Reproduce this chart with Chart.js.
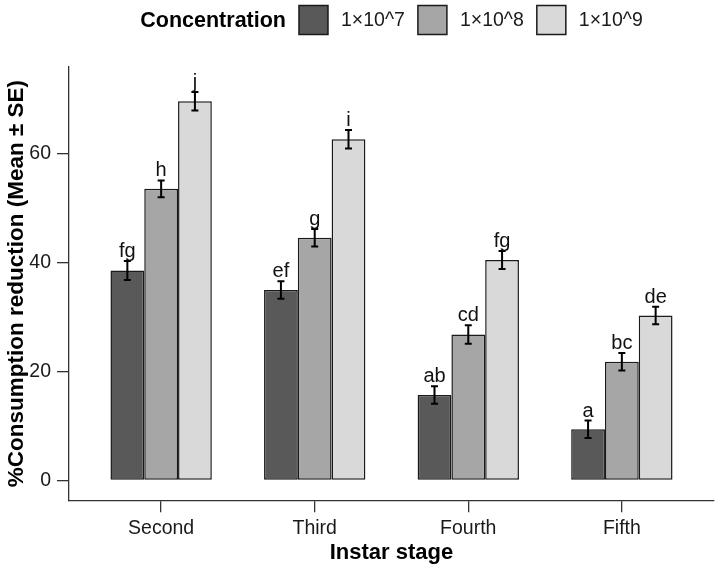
<!DOCTYPE html>
<html>
<head>
<meta charset="utf-8">
<script src="https://cdn.jsdelivr.net/npm/chart.js@4.4.0/dist/chart.umd.min.js"></script>
<style>
  body { margin: 0; background: #fff; }
  canvas { display: block; }
</style>
</head>
<body>
<canvas id="consumption_chart" width="718" height="568"></canvas>
<script>
// Instar stages on the x axis and the three concentrations
var stages = ["Second", "Third", "Fourth", "Fifth"];
var concentrations = ["1×10^7", "1×10^8", "1×10^9"];

// Mean % consumption reduction per stage
var mean7 = [38.6, 35.0, 15.7, 9.4];
var mean8 = [53.6, 44.6, 26.8, 21.8];
var mean9 = [69.7, 62.7, 40.5, 30.3];

// Standard errors
var se7 = [1.75, 1.6, 1.6, 1.6];
var se8 = [1.55, 1.6, 1.7, 1.6];
var se9 = [1.7, 1.7, 1.65, 1.6];

// Letters of the significance groups
var letters7 = ["fg", "ef", "ab", "a"];
var letters8 = ["h", "g", "cd", "bc"];
var letters9 = ["j", "i", "fg", "de"];

var yTicks = [0, 20, 40, 60];

var fills = ["#595959", "#a6a6a6", "#d9d9d9"];
var fontFamily = "'Liberation Sans', Arial, sans-serif";

function makeDataset(label, means, errors, letters, colour) {
    return {
        label: label,
        data: means.map(function (m, i) { return {x: i + 1, y: m}; }),
        errors: errors,
        letters: letters,
        backgroundColor: colour,
        borderColor: "#1a1a1a",
        borderWidth: 1.5,
        borderSkipped: false
    };
}

// Draws the error bars and the letters above every bar
var errorBarPlugin = {
    id: "errorBars",
    afterDatasetsDraw: function (chart) {
        var ctx = chart.ctx;
        var y = chart.scales.y;
        ctx.save();
        chart.data.datasets.forEach(function (ds, d) {
            var meta = chart.getDatasetMeta(d);
            meta.data.forEach(function (bar, i) {
                var m = ds.data[i].y;
                var se = ds.errors[i];
                var top = y.getPixelForValue(m + se);
                var bottom = y.getPixelForValue(m - se);
                ctx.strokeStyle = "#000";
                ctx.lineWidth = 2;
                ctx.beginPath();
                ctx.moveTo(bar.x, top);
                ctx.lineTo(bar.x, bottom);
                ctx.moveTo(bar.x - 3.5, top);
                ctx.lineTo(bar.x + 3.5, top);
                ctx.moveTo(bar.x - 3.5, bottom);
                ctx.lineTo(bar.x + 3.5, bottom);
                ctx.stroke();

                ctx.fillStyle = "#111";
                ctx.font = "20px " + fontFamily;
                ctx.textAlign = "center";
                ctx.textBaseline = "alphabetic";
                ctx.fillText(ds.letters[i], bar.x, top - 4);
            });
        });
        ctx.restore();
    }
};

// Legend in one row with its title on the left, like ggplot's top legend
var legendPlugin = {
    id: "rowLegend",
    afterDraw: function (chart) {
        var ctx = chart.ctx;
        var area = chart.chartArea;
        var box = 29, gap = 13, cy = 20;
        ctx.save();
        ctx.font = "bold 21.5px " + fontFamily;
        var titleW = ctx.measureText("Concentration").width;
        ctx.font = "19.5px " + fontFamily;
        var labelW = concentrations.map(function (c) { return ctx.measureText(c).width; });
        var total = titleW;
        labelW.forEach(function (w) { total += gap + box + gap + w; });
        var x = (area.left + area.right) / 2 - total / 2;

        ctx.textBaseline = "middle";
        ctx.textAlign = "left";
        ctx.fillStyle = "#000";
        ctx.font = "bold 21.5px " + fontFamily;
        ctx.fillText("Concentration", x, cy + 1);
        x += titleW + gap;

        ctx.font = "19.5px " + fontFamily;
        concentrations.forEach(function (c, i) {
            ctx.fillStyle = fills[i];
            ctx.fillRect(x, cy - box / 2, box, box);
            ctx.strokeStyle = "#1a1a1a";
            ctx.lineWidth = 1.5;
            ctx.strokeRect(x, cy - box / 2, box, box);
            x += box + gap;
            ctx.fillStyle = "#1a1a1a";
            ctx.fillText(c, x, cy + 1);
            x += labelW[i] + gap;
        });
        ctx.restore();
    }
};

var ctx = document.getElementById("consumption_chart").getContext("2d");
var chart = new Chart(ctx, {
    type: "bar",
    data: {
        datasets: [
            makeDataset(concentrations[0], mean7, se7, letters7, fills[0]),
            makeDataset(concentrations[1], mean8, se8, letters8, fills[1]),
            makeDataset(concentrations[2], mean9, se9, letters9, fills[2])
        ]
    },
    options: {
        responsive: false,
        animation: false,
        layout: {padding: {top: 67, right: 4, left: 0, bottom: 0}},
        datasets: {bar: {categoryPercentage: 0.66, barPercentage: 1}},
        plugins: {
            legend: {display: false},
            tooltip: {enabled: false}
        },
        scales: {
            x: {
                type: "linear",
                min: 0.4,
                max: 4.6,
                offset: false,
                afterBuildTicks: function (scale) {
                    scale.ticks = stages.map(function (s, i) { return {value: i + 1}; });
                },
                afterFit: function (scale) { scale.height = 67.7; },
                ticks: {
                    autoSkip: false,
                    maxRotation: 0,
                    padding: 5,
                    color: "#1a1a1a",
                    font: {family: fontFamily, size: 19.5},
                    callback: function (v) { return stages[v - 1]; }
                },
                grid: {offset: false, drawOnChartArea: false, drawTicks: true, tickLength: 12, color: "#333", lineWidth: 1.3},
                border: {display: true, color: "#333", width: 1.3},
                title: {
                    display: true,
                    text: "Instar stage",
                    color: "#000",
                    font: {family: fontFamily, size: 22, weight: "bold"},
                    padding: {top: 0, bottom: 2}
                }
            },
            y: {
                min: -3.67,
                max: 76.0,
                afterBuildTicks: function (scale) {
                    scale.ticks = yTicks.map(function (v) { return {value: v}; });
                },
                afterFit: function (scale) { scale.width = 69; },
                ticks: {
                    padding: 6,
                    color: "#1a1a1a",
                    font: {family: fontFamily, size: 19.5}
                },
                grid: {drawOnChartArea: false, drawTicks: true, tickLength: 12, color: "#333", lineWidth: 1.3},
                border: {display: true, color: "#333", width: 1.3},
                title: {
                    display: true,
                    text: "%Consumption reduction (Mean ± SE)",
                    color: "#000",
                    font: {family: fontFamily, size: 22.5, weight: "bold"},
                    padding: {top: 3, bottom: 0}
                }
            }
        }
    },
    plugins: [errorBarPlugin, legendPlugin]
});
</script>
</body>
</html>
